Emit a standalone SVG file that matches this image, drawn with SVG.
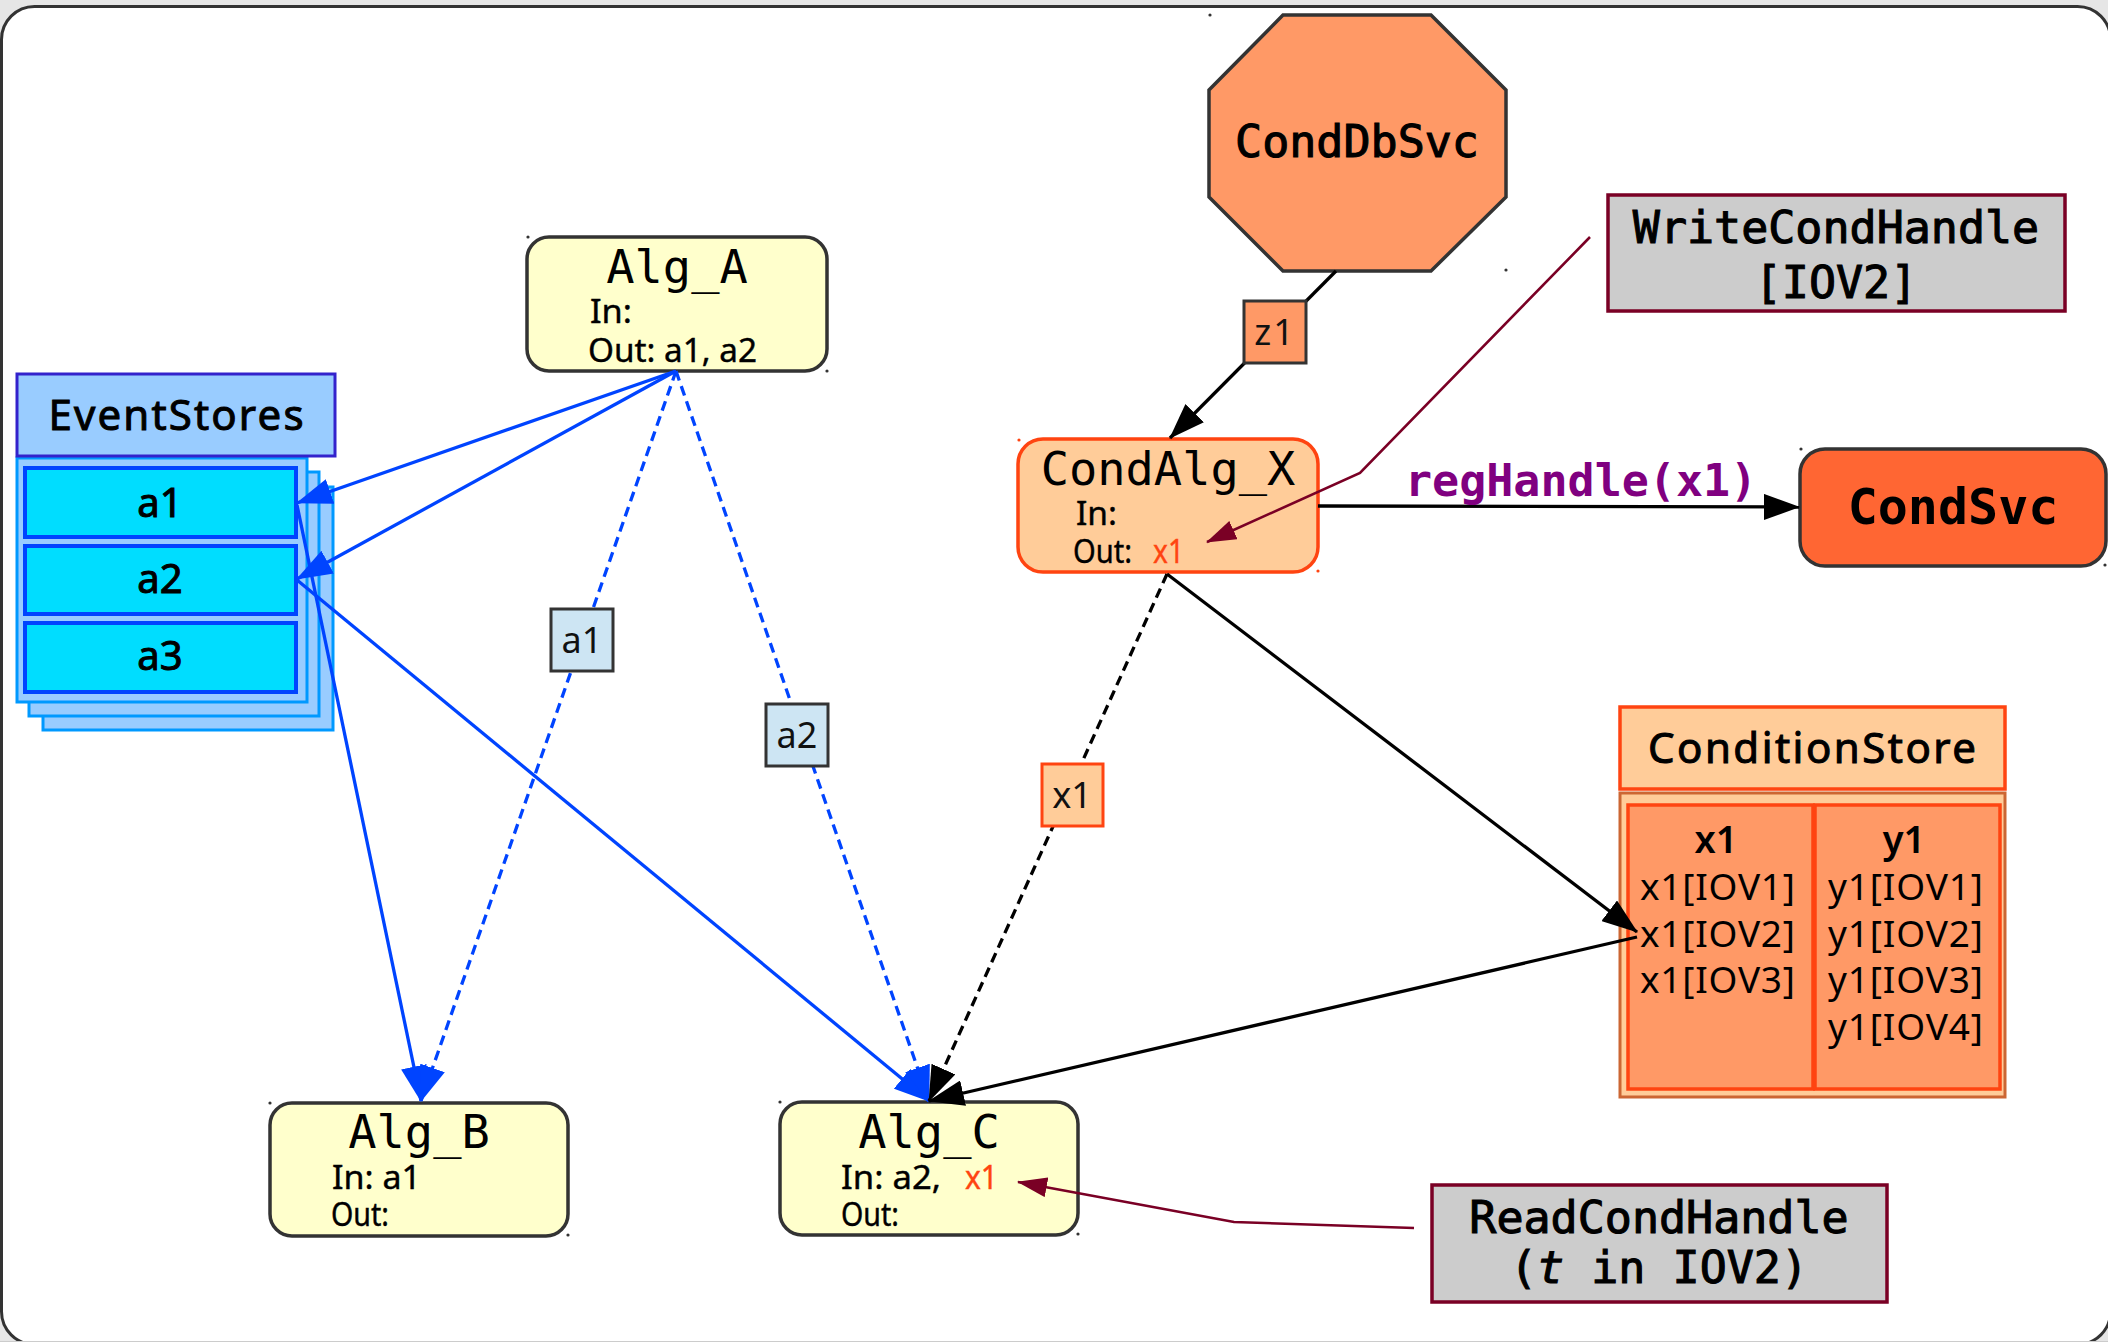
<svg xmlns="http://www.w3.org/2000/svg" width="2108" height="1342" viewBox="0 0 2108 1342">
<style>
.mono{font-family:"DejaVu Sans Mono","Liberation Mono",monospace;}
.sans{font-family:"Noto Sans","Open Sans","DejaVu Sans",sans-serif;}
.alg{fill:#ffffcc;stroke:#333333;stroke-width:3.5;}
.title{font-size:47px;fill:#000;text-anchor:middle;}
.io{font-size:32px;fill:#000;stroke:#000;stroke-width:0.4;}
.hot{fill:#ff4411;stroke:#ff4411;}
.dot{fill:#333333;}
.lbl{stroke:#333333;stroke-width:3;}
.lbltxt{font-size:36px;text-anchor:middle;fill:#111;}
.blue{stroke:#0044ff;stroke-width:3.3;fill:none;}
.black{stroke:#000;stroke-width:3.3;fill:none;}
.dred{stroke:#7a0025;stroke-width:2.6;fill:none;}
.dash{stroke-dasharray:10 6;}
.stack{fill:#99ccff;stroke:#0099ff;stroke-width:3;}
.cell{fill:#00ddff;stroke:#0044ff;stroke-width:4;}
.celltxt{font-size:40px;text-anchor:middle;fill:#000;stroke:#000;stroke-width:1;}
.hdr{font-size:42px;text-anchor:middle;fill:#000;stroke:#000;stroke-width:1;}
.iov{font-size:37px;fill:#000;}
.handle{fill:#cccccc;stroke:#7a0025;stroke-width:3.5;}
.htxt{font-size:45px;text-anchor:middle;fill:#000;stroke:#000;stroke-width:1.1;}
</style>
<defs>
<marker id="ahBlue" viewBox="0 0 36 26" refX="35" refY="13" markerWidth="36" markerHeight="26" markerUnits="userSpaceOnUse" orient="auto"><path d="M0,0 L36,13 L0,26 z" fill="#0044ff"/></marker>
<marker id="ahBlack" viewBox="0 0 36 26" refX="35" refY="13" markerWidth="36" markerHeight="26" markerUnits="userSpaceOnUse" orient="auto"><path d="M0,0 L36,13 L0,26 z" fill="#000"/></marker>
<marker id="ahRed" viewBox="0 0 30 20" refX="29" refY="10" markerWidth="30" markerHeight="20" markerUnits="userSpaceOnUse" orient="auto"><path d="M0,0 L30,10 L0,20 z" fill="#7a0025"/></marker>
</defs>

<!-- page backdrop and frame -->
<rect x="0" y="0" width="2108" height="1342" fill="#e6e6e6"/>
<rect x="1.5" y="6.5" width="2109" height="1338" rx="33" fill="#ffffff" stroke="#333333" stroke-width="3"/>
<line x1="0" y1="1341.5" x2="2108" y2="1341.5" stroke="#cccccc" stroke-width="1"/>

<!-- event store stack -->
<g id="EventStores">
  <rect class="stack" x="43" y="487" width="290" height="243"/>
  <rect class="stack" x="29" y="472" width="290" height="244"/>
  <rect class="stack" x="17" y="458" width="290" height="244"/>
  <rect x="17" y="374" width="318" height="82" fill="#99ccff" stroke="#3322cc" stroke-width="3"/>
  <text class="sans hdr" x="176" y="430" textLength="255">EventStores</text>
</g>
<g id="store_a1">
  <rect class="cell" x="25" y="468" width="271" height="69"/>
  <text class="sans celltxt" x="160" y="517">a1</text>
</g>
<g id="store_a2">
  <rect class="cell" x="25" y="546" width="271" height="68"/>
  <text class="sans celltxt" x="160" y="593">a2</text>
</g>
<g id="store_a3">
  <rect class="cell" x="25" y="623" width="271" height="69"/>
  <text class="sans celltxt" x="160" y="670">a3</text>
</g>

<!-- algorithms -->
<g id="Alg_A">
  <rect class="alg" x="527" y="237" width="300" height="134" rx="22"/>
  <text class="mono title" x="677" y="283">Alg_A</text>
  <text class="sans io" x="590" y="323" textLength="42" lengthAdjust="spacingAndGlyphs">In:</text>
  <text class="sans io" x="588" y="362" textLength="169" lengthAdjust="spacingAndGlyphs">Out: a1, a2</text>
  <circle class="dot" cx="528" cy="237" r="1.6"/><circle class="dot" cx="827" cy="371" r="1.6"/>
</g>
<g id="Alg_B">
  <rect class="alg" x="270" y="1103" width="298" height="133" rx="22"/>
  <text class="mono title" x="419" y="1148">Alg_B</text>
  <text class="sans io" x="332" y="1189" textLength="89" lengthAdjust="spacingAndGlyphs">In: a1</text>
  <text class="sans io" x="331" y="1226" textLength="58" lengthAdjust="spacingAndGlyphs">Out:</text>
  <circle class="dot" cx="270" cy="1103" r="1.6"/><circle class="dot" cx="568" cy="1235" r="1.6"/>
</g>
<g id="Alg_C">
  <rect class="alg" x="780" y="1102" width="298" height="133" rx="22"/>
  <text class="mono title" x="929" y="1148">Alg_C</text>
  <text class="sans io" x="841" y="1189" textLength="100" lengthAdjust="spacingAndGlyphs">In: a2,</text>
  <text class="sans io hot" x="965" y="1189" textLength="33" lengthAdjust="spacingAndGlyphs">x1</text>
  <text class="sans io" x="841" y="1226" textLength="58" lengthAdjust="spacingAndGlyphs">Out:</text>
  <circle class="dot" cx="780" cy="1102" r="1.6"/><circle class="dot" cx="1078" cy="1234" r="1.6"/>
</g>

<!-- conditions side -->
<g id="CondDbSvc">
  <polygon points="1283,15 1431,15 1506,90 1506,197 1431,271 1283,271 1209,197 1209,90" fill="#ff9966" stroke="#333333" stroke-width="3.5"/>
  <text class="mono htxt" x="1357" y="157">CondDbSvc</text>
  <circle class="dot" cx="1210" cy="15" r="1.6"/><circle class="dot" cx="1506" cy="270" r="1.6"/>
</g>
<g id="CondAlg_X">
  <rect x="1018" y="439" width="300" height="133" rx="25" fill="#ffcc99" stroke="#ff4411" stroke-width="3.5"/>
  <text class="mono title" x="1168" y="485">CondAlg_X</text>
  <text class="sans io" x="1076" y="525" textLength="41" lengthAdjust="spacingAndGlyphs">In:</text>
  <text class="sans io" x="1073" y="563" textLength="59" lengthAdjust="spacingAndGlyphs">Out:</text>
  <text class="sans io hot" x="1153" y="563" textLength="31" lengthAdjust="spacingAndGlyphs">x1</text>
  <circle cx="1019" cy="440" r="1.6" fill="#ff4411"/><circle cx="1318" cy="571" r="1.6" fill="#ff4411"/>
</g>
<g id="CondSvc">
  <rect x="1800" y="449" width="306" height="117" rx="25" fill="#ff6633" stroke="#333333" stroke-width="3.5"/>
  <text class="mono" x="1953" y="524" font-size="50" font-weight="700" text-anchor="middle">CondSvc</text>
  <circle class="dot" cx="1801" cy="449" r="1.6"/><circle class="dot" cx="2105" cy="565" r="1.6"/>
</g>
<g id="WriteCondHandle">
  <rect class="handle" x="1608" y="195" width="457" height="116"/>
  <text class="mono htxt" x="1836" y="243">WriteCondHandle</text>
  <text class="mono htxt" x="1836" y="298">[IOV2]</text>
</g>
<g id="ReadCondHandle">
  <rect class="handle" x="1432" y="1185" width="455" height="117"/>
  <text class="mono htxt" x="1659" y="1233">ReadCondHandle</text>
  <text class="mono htxt" x="1659" y="1283">(<tspan font-style="italic">t</tspan> in IOV2)</text>
</g>
<g id="ConditionStore">
  <rect x="1620" y="707" width="385" height="82" fill="#ffcc99" stroke="#ff4411" stroke-width="3.5"/>
  <text class="sans hdr" x="1812" y="763" textLength="328">ConditionStore</text>
  <rect x="1620" y="793" width="385" height="304" fill="#ffcc99" stroke="#cc6633" stroke-width="3"/>
</g>
<g id="cond_x1">
  <rect x="1628" y="805" width="185" height="284" fill="#ff9966" stroke="#ff4411" stroke-width="3.5"/>
  <text class="sans" x="1716" y="853" font-size="38" font-weight="600" text-anchor="middle">x1</text>
  <text class="sans iov" x="1640" y="900" textLength="155">x1[IOV1]</text>
  <text class="sans iov" x="1640" y="947" textLength="155">x1[IOV2]</text>
  <text class="sans iov" x="1640" y="993" textLength="155">x1[IOV3]</text>
</g>
<g id="cond_y1">
  <rect x="1815" y="805" width="185" height="284" fill="#ff9966" stroke="#ff4411" stroke-width="3.5"/>
  <text class="sans" x="1904" y="853" font-size="38" font-weight="600" text-anchor="middle">y1</text>
  <text class="sans iov" x="1828" y="900" textLength="155">y1[IOV1]</text>
  <text class="sans iov" x="1828" y="947" textLength="155">y1[IOV2]</text>
  <text class="sans iov" x="1828" y="993" textLength="155">y1[IOV3]</text>
  <text class="sans iov" x="1828" y="1040" textLength="155">y1[IOV4]</text>
</g>

<!-- connectors -->
<g id="connectors">
  <line class="blue" x1="676" y1="371" x2="297" y2="503" marker-end="url(#ahBlue)"/>
  <line class="blue" x1="676" y1="371" x2="297" y2="579" marker-end="url(#ahBlue)"/>
  <line class="blue" x1="297" y1="505" x2="421" y2="1101" marker-end="url(#ahBlue)"/>
  <line class="blue" x1="297" y1="580" x2="929" y2="1101" marker-end="url(#ahBlue)"/>
  <line class="blue dash" x1="676" y1="371" x2="421" y2="1101" marker-end="url(#ahBlue)"/>
  <line class="blue dash" x1="676" y1="371" x2="929" y2="1101" marker-end="url(#ahBlue)"/>
  <line class="black" x1="1336" y1="271" x2="1170" y2="438" marker-end="url(#ahBlack)"/>
  <line class="black" x1="1318" y1="506" x2="1799" y2="507" marker-end="url(#ahBlack)"/>
  <line class="black" x1="1167" y1="574" x2="1637" y2="932" marker-end="url(#ahBlack)"/>
  <line class="black" x1="1637" y1="937" x2="929" y2="1101" marker-end="url(#ahBlack)"/>
  <line class="black dash" x1="1167" y1="574" x2="929" y2="1101" marker-end="url(#ahBlack)"/>
  <polyline class="dred" points="1590,237 1360,473 1207,542" marker-end="url(#ahRed)"/>
  <polyline class="dred" points="1414,1228 1234,1222 1018,1182" marker-end="url(#ahRed)"/>

  <text class="mono" x="1405" y="496" font-size="45" font-weight="700" fill="#800080">regHandle(x1)</text>

  <g id="label_a1">
    <rect class="lbl" x="551" y="609" width="62" height="62" fill="#cde5f3"/>
    <text class="sans lbltxt" x="582" y="653">a1</text>
  </g>
  <g id="label_a2">
    <rect class="lbl" x="766" y="704" width="62" height="62" fill="#cde5f3"/>
    <text class="sans lbltxt" x="797" y="748">a2</text>
  </g>
  <g id="label_x1">
    <rect x="1042" y="764" width="61" height="62" fill="#ffcc99" stroke="#ff4411" stroke-width="3"/>
    <text class="sans lbltxt" x="1072" y="808">x1</text>
  </g>
  <g id="label_z1">
    <rect class="lbl" x="1244" y="301" width="62" height="62" fill="#ff9966"/>
    <text class="sans lbltxt" x="1275" y="345" font-size="34" letter-spacing="2">z1</text>
  </g>
</g>
</svg>
